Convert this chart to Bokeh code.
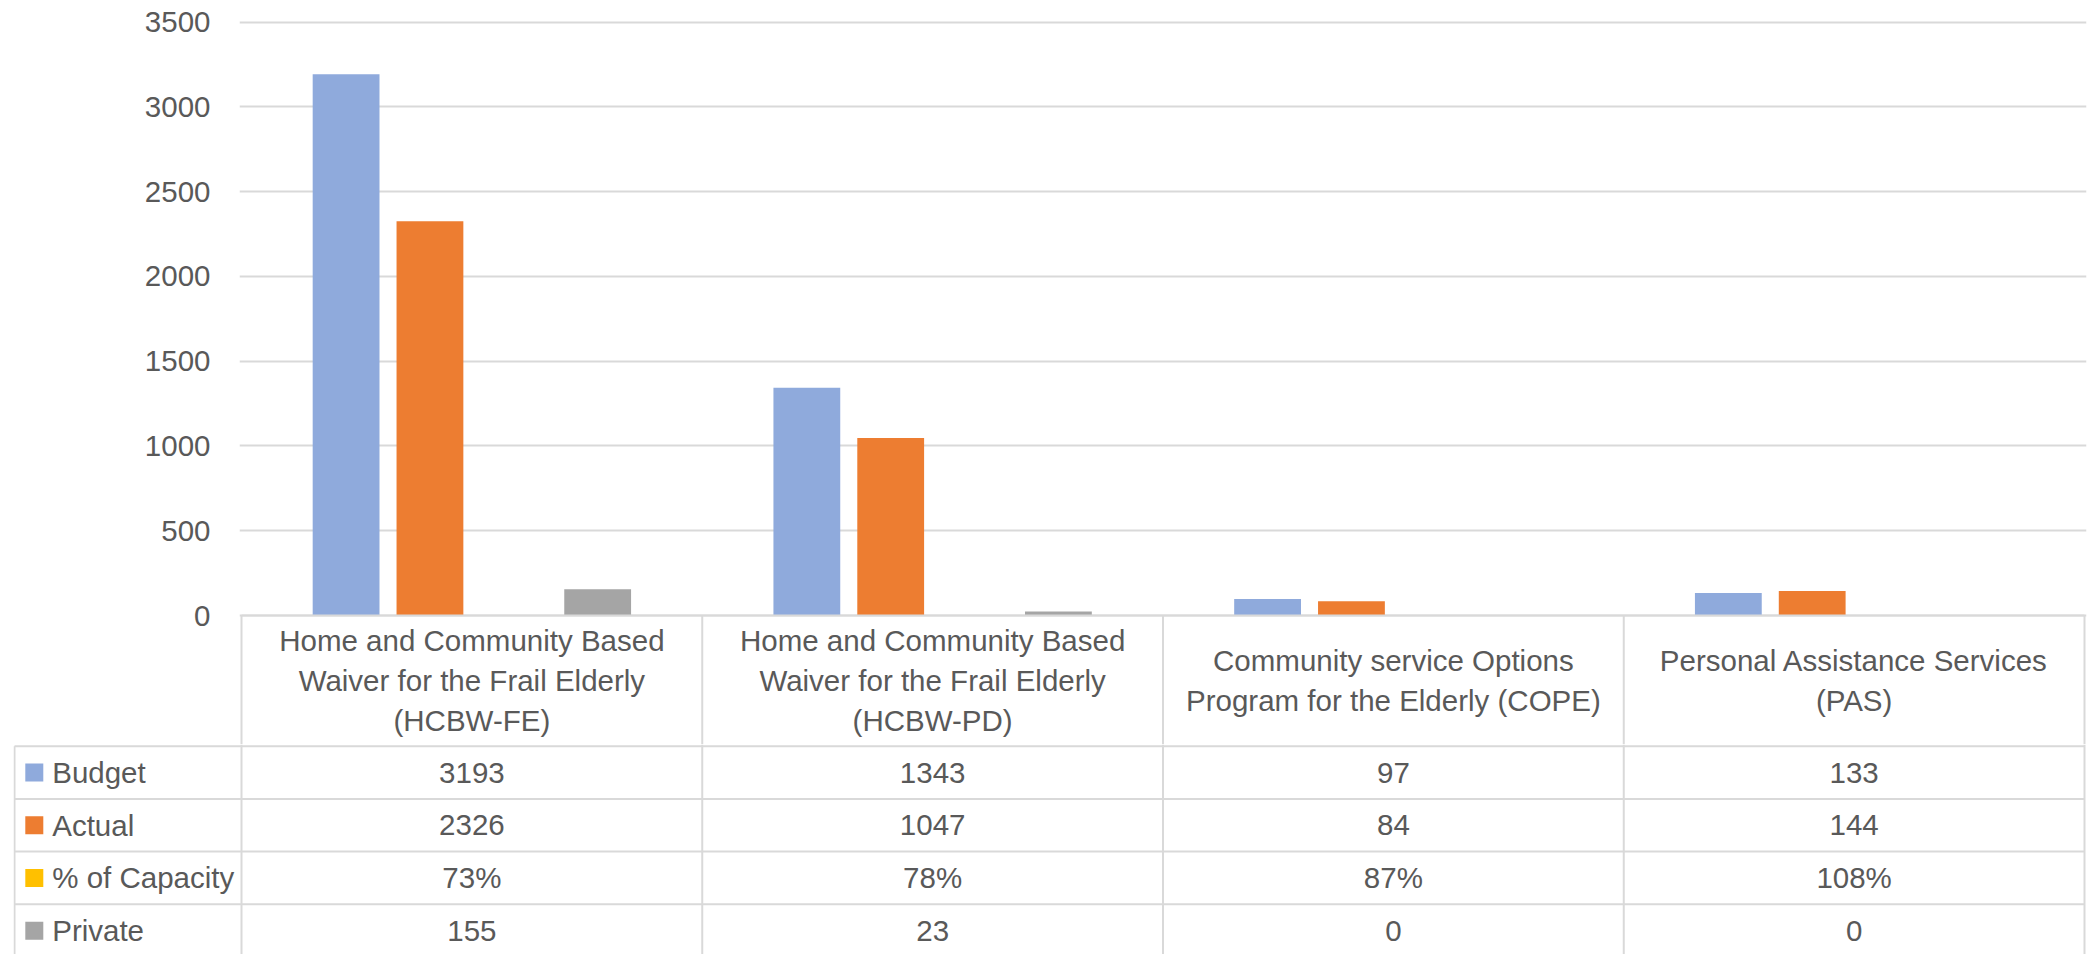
from bokeh.plotting import figure
from bokeh.models import Range1d, FixedTicker
from bokeh.layouts import column
from bokeh.embed import file_html
from bokeh.resources import INLINE
from bokeh.core.properties import value

# ---------------- data ----------------
categories = [
    "Home and Community Based\nWaiver for the Frail Elderly\n(HCBW-FE)",
    "Home and Community Based\nWaiver for the Frail Elderly\n(HCBW-PD)",
    "Community service Options\nProgram for the Elderly (COPE)",
    "Personal Assistance Services\n(PAS)",
]
series_names = ["Budget", "Actual", "% of Capacity", "Private"]
budget = [3193, 1343, 97, 133]
actual = [2326, 1047, 84, 144]
capacity = [0.73, 0.78, 0.87, 1.08]
private = [155, 23, 0, 0]
y_tick_step = 500
y_max = 3500
y_ticks = list(range(0, y_max + 1, y_tick_step))

# ---------------- style ----------------
FONT = "Liberation Sans"
FS = "29.5px"
TXT = "#595959"
GRID = "#D9D9D9"
colors = ["#8FAADC", "#ED7D31", "#FFC000", "#A5A5A5"]

series_values = [budget, actual, capacity, private]
table_text = [
    [str(v) for v in budget],
    [str(v) for v in actual],
    [f"{round(v * 100)}%" for v in capacity],
    [str(v) for v in private],
]

W, H = 2088, 954
n = len(categories)
cat_left_pg, cat_right_pg = 241, 2084
leg_left_pg = 14
cat_w = (cat_right_pg - cat_left_pg) / n

# page geometry of the table
header_top_pg = 615.0
header_h = 130.7
row_h = 52.7
header_bot_pg = header_top_pg + header_h
row_edges_pg = [header_bot_pg + r * row_h for r in range(len(series_names) + 1)]

# ---------------- chart + header row (top figure) ----------------
A_h, A_top = 744, 20
zero_pg, top_pg = header_top_pg, 21.7
k = (zero_pg - top_pg) / y_max
y0 = -(A_h - zero_pg) / k
y1 = y_max + (top_pg - A_top) / k
A_left, A_right = 239, 2086
ax0 = -(cat_left_pg - A_left) / cat_w
ax1 = n + (A_right - cat_right_pg) / cat_w


def to_data(page_y):
    return (zero_pg - page_y) / k


pa = figure(width=W, height=A_h, x_range=Range1d(ax0, ax1), y_range=Range1d(y0, y1),
            title=None, x_axis_location=None,
            min_border_left=A_left, min_border_right=W - A_right,
            min_border_top=A_top, min_border_bottom=0,
            output_backend="svg", toolbar_location=None)
pa.frame_align = False
pa.outline_line_color = None
pa.background_fill_color = "white"
pa.border_fill_color = "white"

ticker = FixedTicker(ticks=y_ticks)
pa.yaxis.ticker = ticker
pa.yaxis.axis_line_color = None
pa.yaxis.major_tick_line_color = None
pa.yaxis.minor_tick_line_color = None
pa.yaxis.major_tick_out = 0
pa.yaxis.major_tick_in = 0
pa.yaxis.minor_tick_out = 0
pa.yaxis.major_label_text_font = FONT
pa.yaxis.major_label_text_font_size = FS
pa.yaxis.major_label_text_color = TXT
pa.yaxis.major_label_standoff = A_left - 210
pa.ygrid.ticker = ticker
pa.ygrid.grid_line_color = GRID
pa.ygrid.grid_line_width = 2
pa.xgrid.visible = False

pitch, bar_w = 0.182, 0.145
for s, (vals, col) in enumerate(zip(series_values, colors)):
    off = (s - (len(series_values) - 1) / 2) * pitch
    xs = [i + 0.5 + off for i in range(n)]
    pa.vbar(x=xs, top=vals, bottom=0, width=bar_w, fill_color=col, line_color=None)

# header borders (top line = value axis baseline, column separators)
pa.segment(x0=[0], y0=[0], x1=[n], y1=[0], line_color=GRID, line_width=2)
cx = list(range(n + 1))
pa.segment(x0=cx, y0=[0] * len(cx), x1=cx, y1=[y0] * len(cx), line_color=GRID, line_width=2)

# header texts
line_gap = 40
hc_pg = header_top_pg + header_h / 2
tx, ty, tt = [], [], []
for i, cat in enumerate(categories):
    lines = cat.split("\n")
    for j, ln in enumerate(lines):
        tx.append(i + 0.5)
        ty.append(to_data(hc_pg + (j - (len(lines) - 1) / 2) * line_gap))
        tt.append(ln)
pa.text(x=tx, y=ty, text=tt, text_font=value(FONT), text_font_size=FS,
        text_color=TXT, text_align="center", text_baseline="middle")

# ---------------- data rows (bottom figure) ----------------
B_h = H - A_h
B_left, B_right = 13, 2086
xb0 = -(cat_left_pg - B_left) / cat_w
xb1 = n + (B_right - cat_right_pg) / cat_w
xleg = -(cat_left_pg - leg_left_pg) / cat_w
row_edges = [e - A_h for e in row_edges_pg]

pb = figure(width=W, height=B_h, x_range=Range1d(xb0, xb1), y_range=Range1d(B_h, 0),
            title=None, x_axis_location=None, y_axis_location=None,
            min_border_left=B_left, min_border_right=W - B_right,
            min_border_top=0, min_border_bottom=0,
            output_backend="svg", toolbar_location=None)
pb.frame_align = False
pb.outline_line_color = None
pb.background_fill_color = "white"
pb.border_fill_color = "white"
pb.grid.visible = False

# borders
pb.segment(x0=[xleg] * len(row_edges), y0=row_edges, x1=[n] * len(row_edges), y1=row_edges,
           line_color=GRID, line_width=2)
vx = [xleg] + cx
vy0 = [row_edges[0]] + [0] * len(cx)
vy1 = [row_edges[-1]] * len(vx)
pb.segment(x0=vx, y0=vy0, x1=vx, y1=vy1, line_color=GRID, line_width=2)

# values
vx_, vy_, vt_ = [], [], []
for r, row in enumerate(table_text):
    yc = row_edges[r] + row_h / 2
    for i, t in enumerate(row):
        vx_.append(i + 0.5)
        vy_.append(yc)
        vt_.append(t)
pb.text(x=vx_, y=vy_, text=vt_, text_font=value(FONT), text_font_size=FS,
        text_color=TXT, text_align="center", text_baseline="middle")

# legend keys and names
key_x = (33.8 - cat_left_pg) / cat_w
lab_x = (51.7 - cat_left_pg) / cat_w
row_c = [row_edges[r] + row_h / 2 for r in range(len(series_names))]
pb.scatter(x=[key_x] * len(series_names), y=row_c, marker="square", size=18,
           fill_color=colors, line_color=None)
pb.text(x=[lab_x] * len(series_names), y=row_c, text=series_names,
        text_font=value(FONT), text_font_size=FS, text_color=TXT,
        text_align="left", text_baseline="middle")

layout = column(pa, pb, spacing=0)
open("out.html", "w").write(file_html(layout, INLINE))
